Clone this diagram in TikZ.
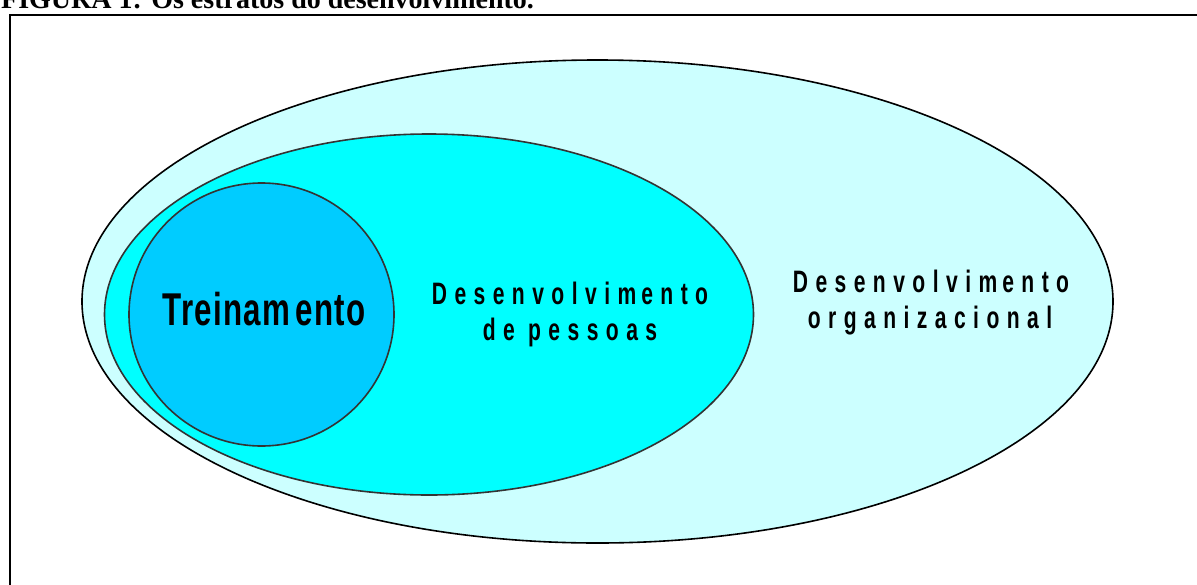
\documentclass[tikz,border=0pt]{standalone}
\usepackage{fontspec}
\setmainfont{Liberation Serif}
\newfontfamily\lblfont[FakeStretch=0.68,LetterSpace=24]{Liberation Sans}
\newfontfamily\trfont[FakeStretch=0.68,LetterSpace=3]{Liberation Sans}
\definecolor{outerfill}{HTML}{CCFFFF}
\definecolor{midfill}{HTML}{00FFFF}
\definecolor{innerfill}{HTML}{00CCFF}
\definecolor{edgegray}{HTML}{333333}
\begin{document}
\begin{tikzpicture}[x=1pt,y=-1pt,
  frame/.style={draw=black,line width=2pt},
  stratum/.style={line width=1.6pt},
  biglabel/.style={anchor=base,inner sep=0pt,font=\trfont\bfseries\fontsize{46}{50}\selectfont},
  label/.style={anchor=base,inner sep=0pt,font=\lblfont\bfseries\fontsize{31}{35}\selectfont},
  title/.style={anchor=base west,inner sep=0pt,font=\bfseries\fontsize{28}{32}\selectfont}]
\useasboundingbox (0,0) rectangle (1197,584);
\node[title] (title) at (1,8.5) {FIGURA 1: Os estratos do desenvolvimento.};
\draw[frame] (10,15) rectangle (1220,610);
\draw[stratum,draw=black,fill=outerfill] (597.5,301.5) ellipse [x radius=515.5, y radius=241.5];
\draw[stratum,draw=edgegray,fill=midfill] (429,314.5) ellipse [x radius=324.5, y radius=180.5];
\draw[stratum,draw=edgegray,fill=innerfill] (261.5,314.5) ellipse [x radius=132.5, y radius=131.5];
\node[biglabel] (tr) at (264,325) {Treinam\kern5pt ento};
\node[label] (dp1) at (570,304) {Desenvolvim\kern5pt ento};
\node[label] (dp2) at (570,340) {de pessoas};
\node[label] (do1) at (931,292) {Desenvolvim\kern5pt ento};
\node[label] (do2) at (930,328) {organizacional};
\end{tikzpicture}
\end{document}
